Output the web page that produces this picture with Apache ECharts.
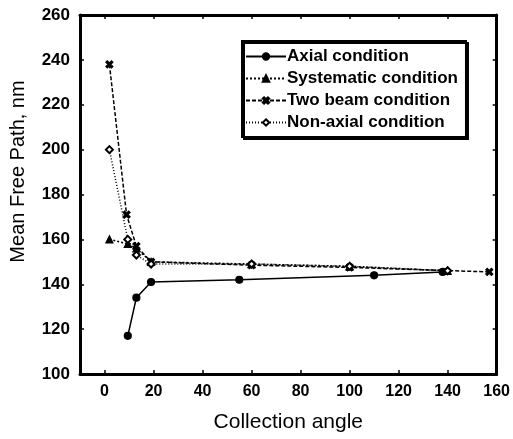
<!DOCTYPE html>
<html>
<head>
<meta charset="utf-8">
<script src="https://cdn.jsdelivr.net/npm/echarts@6/dist/echarts.min.js"></script>
<style>
  html, body { margin: 0; padding: 0; background: #fff; }
  #main { width: 513px; height: 439px; }
</style>
</head>
<body>
<div id="main"></div>
<script>
// values: [collection angle, mean free path]
var axial = [[9.5, 117], [13, 134], [19, 141], [55, 142], [110, 144], [138, 145.5]];
var systematic = [[2, 160], [9.5, 158], [13, 156], [19, 150], [60, 149], [100, 148], [140, 146]];
var twoBeam = [[2, 238], [9, 171], [13, 157], [19, 150], [60, 148.5], [100, 147.5], [157, 145.5]];
var nonAxial = [[2, 200], [9.5, 160], [13, 153], [19, 149], [60, 149], [100, 148], [140, 146]];
var xTicks = [0, 20, 40, 60, 80, 100, 120, 140, 160];
var seriesNames = ['Axial condition', 'Systematic condition', 'Two beam condition', 'Non-axial condition'];

var chart = echarts.init(document.getElementById('main'));
var font = 'Liberation Sans, Arial, sans-serif';
var crossPath = 'path://M0,2L2,0L5,3L8,0L10,2L7,5L10,8L8,10L5,7L2,10L0,8L3,5Z';

function mkSeries(name, data, type, symbol, size) {
  return {
    name: name,
    type: 'line',
    data: data,
    symbol: symbol,
    symbolSize: size,
    showSymbol: true,
    color: '#000',
    lineStyle: { color: '#000', width: 1.5, type: type },
    itemStyle: { color: '#000', borderColor: '#000', borderWidth: 1.2 },
    animation: false
  };
}

var option = {
  backgroundColor: '#fff',
  grid: { left: 80, right: 16, top: 15, bottom: 65 },
  legend: {
    data: seriesNames,
    orient: 'vertical',
    left: 242,
    top: 41,
    itemWidth: 40,
    itemHeight: 8,
    itemGap: 5,
    padding: [7, 8, 6, 3],
    borderColor: '#000',
    borderWidth: 2,
    shadowColor: '#000',
    shadowOffsetX: 2,
    shadowOffsetY: 2,
    backgroundColor: '#fff',
    textStyle: { fontFamily: font, fontSize: 17, fontWeight: 'bold', color: '#000', padding: [0, 0, 0, -4] }
  },
  xAxis: [{
    type: 'value',
    min: -10,
    max: 160,
    name: 'Collection angle',
    nameLocation: 'middle',
    nameGap: 38,
    nameTextStyle: { fontFamily: font, fontSize: 21, color: '#000' },
    axisLine: { show: true, onZero: false, lineStyle: { color: '#000', width: 3 } },
    axisTick: { show: true, inside: true, length: 4, customValues: xTicks, lineStyle: { color: '#000', width: 1.5 } },
    axisLabel: { customValues: xTicks, margin: 10, fontFamily: font, fontSize: 16, fontWeight: 'bold', color: '#000' },
    splitLine: { show: false }
  }, {
    type: 'value',
    position: 'top',
    min: -10,
    max: 160,
    axisLine: { show: true, onZero: false, lineStyle: { color: '#000', width: 3 } },
    axisTick: { show: true, inside: true, length: 4, customValues: xTicks, lineStyle: { color: '#000', width: 1.5 } },
    axisLabel: { show: false },
    splitLine: { show: false }
  }],
  yAxis: [{
    type: 'value',
    min: 100,
    max: 260,
    interval: 20,
    name: 'Mean Free Path, nm',
    nameLocation: 'middle',
    nameGap: 52,
    nameTextStyle: { fontFamily: font, fontSize: 20, color: '#000', padding: [0, 0, 0, 46] },
    axisLine: { show: true, onZero: false, lineStyle: { color: '#000', width: 3 } },
    axisTick: { show: true, inside: true, length: 4, lineStyle: { color: '#000', width: 1.5 } },
    axisLabel: { margin: 10, fontFamily: font, fontSize: 17, fontWeight: 'bold', color: '#000' },
    splitLine: { show: false }
  }, {
    type: 'value',
    position: 'right',
    min: 100,
    max: 260,
    interval: 20,
    axisLine: { show: true, onZero: false, lineStyle: { color: '#000', width: 3 } },
    axisTick: { show: true, inside: true, length: 4, lineStyle: { color: '#000', width: 1.5 } },
    axisLabel: { show: false },
    splitLine: { show: false }
  }],
  series: [
    mkSeries(seriesNames[0], axial, 'solid', 'circle', 7),
    mkSeries(seriesNames[1], systematic, [2, 2], 'triangle', 7),
    mkSeries(seriesNames[2], twoBeam, [4, 2], crossPath, 7),
    mkSeries(seriesNames[3], nonAxial, [1, 2], 'emptyDiamond', 7)
  ]
};

chart.setOption(option);
</script>
</body>
</html>
